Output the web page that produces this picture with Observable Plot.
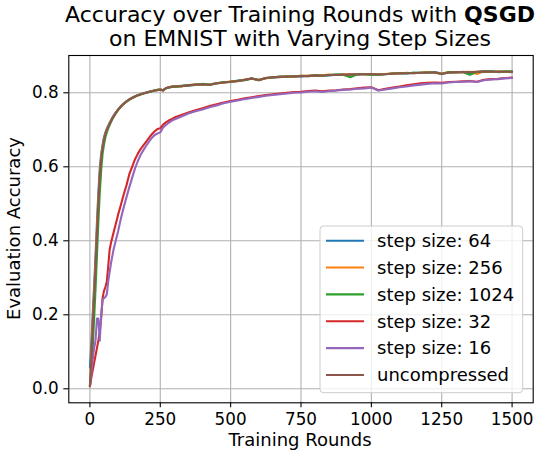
<!DOCTYPE html>
<html>
<head>
<meta charset="utf-8">
<script src="https://cdn.jsdelivr.net/npm/d3@7"></script>
<script src="https://cdn.jsdelivr.net/npm/@observablehq/plot@0.6"></script>
<style>
  html, body { margin: 0; padding: 0; background: #fff; overflow: hidden; }
  #chart { width: 538px; height: 457px; }
</style>
</head>
<body>
<div id="chart"></div>
<script>
// Evaluation rounds at which accuracy was recorded
const rounds = [
  0, 5, 10, 15, 20, 25, 30, 35, 40, 45, 50, 55, 60, 65, 70, 75, 80, 85, 90, 95, 100,
  110, 120, 130, 140, 150, 160, 170, 180, 190, 200, 210, 220, 230, 240, 250, 260, 270, 280, 290, 300,
  325, 350, 375, 400, 425, 450, 475, 500, 525, 550, 575, 600, 625, 650, 675, 700, 725, 750, 775, 800,
  825, 850, 875, 900, 925, 950, 975, 1000, 1025, 1050, 1075, 1100, 1125, 1150, 1175, 1200, 1225, 1250,
  1275, 1300, 1325, 1350, 1375, 1400, 1425, 1450, 1475, 1500
];

const seriesNames = ["step size: 64", "step size: 256", "step size: 1024", "step size: 32", "step size: 16", "uncompressed"];
const seriesColors = ["#1f77b4", "#ff7f0e", "#2ca02c", "#d62728", "#9467bd", "#8c564b"];

const step64 = [
  0.058, 0.12, 0.2, 0.28, 0.36, 0.45, 0.53, 0.595, 0.635, 0.66, 0.68, 0.693, 0.703, 0.711, 0.719, 0.726, 0.733, 0.739, 0.745, 0.75, 0.755,
  0.764, 0.771, 0.777, 0.782, 0.787, 0.79, 0.794, 0.796, 0.799, 0.801, 0.803, 0.804, 0.806, 0.808, 0.809, 0.807, 0.812, 0.814, 0.816, 0.817,
  0.819, 0.82, 0.821, 0.824, 0.822, 0.825, 0.828, 0.829, 0.833, 0.835, 0.838, 0.835, 0.84, 0.841, 0.843, 0.843, 0.845, 0.844, 0.846, 0.846,
  0.847, 0.847, 0.849, 0.848, 0.85, 0.849, 0.851, 0.85, 0.85, 0.851, 0.851, 0.853, 0.852, 0.854, 0.854, 0.854, 0.856, 0.852,
  0.854, 0.855, 0.857, 0.85, 0.856, 0.857, 0.858, 0.856, 0.857, 0.856
];
const step256 = [
  0.007, 0.09, 0.18, 0.26, 0.34, 0.43, 0.51, 0.58, 0.625, 0.653, 0.674, 0.689, 0.7, 0.709, 0.717, 0.725, 0.732, 0.738, 0.744, 0.749, 0.754,
  0.763, 0.771, 0.776, 0.782, 0.786, 0.789, 0.793, 0.796, 0.799, 0.8, 0.803, 0.805, 0.806, 0.807, 0.81, 0.806, 0.812, 0.815, 0.816, 0.818,
  0.817, 0.821, 0.822, 0.822, 0.823, 0.826, 0.827, 0.831, 0.831, 0.836, 0.838, 0.835, 0.839, 0.842, 0.842, 0.845, 0.843, 0.846, 0.846, 0.847,
  0.847, 0.849, 0.848, 0.85, 0.849, 0.85, 0.851, 0.85, 0.85, 0.851, 0.853, 0.852, 0.854, 0.853, 0.854, 0.856, 0.854, 0.852,
  0.856, 0.855, 0.856, 0.857, 0.851, 0.858, 0.856, 0.858, 0.857, 0.857
];
const step1024 = [
  0.007, 0.05, 0.11, 0.19, 0.27, 0.36, 0.45, 0.53, 0.59, 0.635, 0.66, 0.68, 0.693, 0.704, 0.713, 0.721, 0.729, 0.736, 0.742, 0.748, 0.753,
  0.762, 0.77, 0.776, 0.781, 0.786, 0.79, 0.793, 0.795, 0.798, 0.8, 0.802, 0.804, 0.806, 0.808, 0.808, 0.807, 0.812, 0.814, 0.817, 0.816,
  0.818, 0.82, 0.822, 0.823, 0.822, 0.826, 0.829, 0.83, 0.832, 0.834, 0.839, 0.834, 0.84, 0.842, 0.844, 0.844, 0.844, 0.846, 0.845, 0.847,
  0.846, 0.848, 0.849, 0.849, 0.842, 0.85, 0.85, 0.848, 0.849, 0.85, 0.852, 0.853, 0.853, 0.854, 0.854, 0.855, 0.855, 0.851,
  0.856, 0.856, 0.856, 0.849, 0.857, 0.858, 0.858, 0.857, 0.858, 0.858
];
const step32 = [
  0.007, 0.03, 0.05, 0.07, 0.09, 0.11, 0.13, 0.155, 0.19, 0.245, 0.265, 0.275, 0.29, 0.33, 0.375, 0.395, 0.41, 0.425, 0.44, 0.455, 0.47,
  0.497, 0.525, 0.55, 0.58, 0.6, 0.62, 0.635, 0.648, 0.658, 0.668, 0.678, 0.688, 0.696, 0.702, 0.704, 0.714, 0.72, 0.725, 0.729, 0.733,
  0.74, 0.747, 0.753, 0.758, 0.764, 0.769, 0.774, 0.778, 0.781, 0.785, 0.788, 0.791, 0.794, 0.796, 0.798, 0.8, 0.802, 0.803, 0.805, 0.806,
  0.804, 0.806, 0.807, 0.809, 0.81, 0.812, 0.814, 0.815, 0.807, 0.811, 0.814, 0.817, 0.82, 0.823, 0.826, 0.827, 0.828, 0.827,
  0.829, 0.83, 0.831, 0.832, 0.83, 0.835, 0.837, 0.838, 0.84, 0.841
];
const step16 = [
  0.008, 0.04, 0.08, 0.11, 0.13, 0.19, 0.19, 0.13, 0.2, 0.24, 0.245, 0.248, 0.255, 0.29, 0.315, 0.34, 0.36, 0.38, 0.395, 0.41, 0.425,
  0.46, 0.49, 0.518, 0.545, 0.57, 0.595, 0.615, 0.632, 0.645, 0.657, 0.668, 0.678, 0.686, 0.69, 0.693, 0.706, 0.713, 0.719, 0.724, 0.728,
  0.736, 0.744, 0.75, 0.755, 0.761, 0.766, 0.772, 0.776, 0.779, 0.783, 0.786, 0.789, 0.792, 0.794, 0.796, 0.798, 0.8, 0.801, 0.803, 0.804,
  0.802, 0.805, 0.806, 0.808, 0.809, 0.811, 0.812, 0.814, 0.806, 0.809, 0.812, 0.815, 0.817, 0.82, 0.822, 0.824, 0.826, 0.825,
  0.828, 0.829, 0.83, 0.831, 0.829, 0.834, 0.836, 0.837, 0.839, 0.84
];
const uncompressed = [
  0.007, 0.08, 0.17, 0.25, 0.33, 0.42, 0.5, 0.575, 0.62, 0.65, 0.672, 0.688, 0.698, 0.708, 0.716, 0.724, 0.731, 0.737, 0.743, 0.749, 0.754,
  0.763, 0.77, 0.777, 0.782, 0.786, 0.79, 0.793, 0.796, 0.798, 0.8, 0.802, 0.804, 0.806, 0.807, 0.809, 0.806, 0.813, 0.815, 0.816, 0.817,
  0.818, 0.82, 0.822, 0.823, 0.821, 0.826, 0.828, 0.83, 0.832, 0.835, 0.839, 0.834, 0.84, 0.842, 0.843, 0.844, 0.844, 0.845, 0.845, 0.847,
  0.846, 0.848, 0.848, 0.849, 0.849, 0.85, 0.85, 0.851, 0.849, 0.85, 0.852, 0.853, 0.853, 0.853, 0.854, 0.855, 0.855, 0.851,
  0.855, 0.856, 0.856, 0.856, 0.857, 0.858, 0.857, 0.857, 0.857, 0.857
];

const xTicks = [0, 250, 500, 750, 1000, 1250, 1500];
const yTicks = [0, 0.2, 0.4, 0.6, 0.8];

// Long-format rows, in legend (drawing) order
const seriesValues = [step64, step256, step1024, step32, step16, uncompressed];
const rows = [];
seriesNames.forEach((name, i) => {
  seriesValues[i].forEach((v, j) => rows.push({series: name, round: rounds[j], acc: v}));
});

const gridStyle = {stroke: "#b0b0b0", strokeOpacity: 1, strokeWidth: 1.1};

const chart = Plot.plot({
  width: 538,
  height: 457,
  marginLeft: 68.3,
  marginRight: 5.3,
  marginTop: 55,
  marginBottom: 54.7,
  style: {fontFamily: "DejaVu Sans", fontSize: "16.8px", color: "#000", background: "#fff", overflow: "visible"},
  x: {domain: [-75, 1575]},
  y: {domain: [-0.0378, 0.9008]},
  color: {domain: seriesNames, range: seriesColors},
  marks: [
    Plot.gridX(xTicks, gridStyle),
    Plot.gridY(yTicks, gridStyle),
    Plot.line(rows, {x: "round", y: "acc", z: "series", stroke: "series", strokeWidth: 2.1}),
    Plot.frame({stroke: "#000", strokeWidth: 1.1}),
    Plot.axisX(xTicks, {tickSize: 5, tickPadding: 5, strokeWidth: 1.1, label: null, tickFormat: d => String(d)}),
    Plot.axisY(yTicks, {tickSize: 5, tickPadding: 5, strokeWidth: 1.1, label: null, tickFormat: d => d.toFixed(1)})
  ]
});

document.getElementById("chart").appendChild(chart);

const svg = d3.select(chart);
const font = "DejaVu Sans";

// Two-line title centred over the axes
const title = svg.append("g")
  .attr("font-family", font)
  .attr("font-size", 22)
  .attr("text-anchor", "middle")
  .attr("fill", "#000");
const line1 = title.append("text").attr("x", 300).attr("y", 22).style("white-space", "pre");
line1.append("tspan").text("Accuracy over Training Rounds with ");
line1.append("tspan").attr("font-weight", "bold").text("QSGD");
title.append("text").attr("x", 300).attr("y", 46).text("on EMNIST with Varying Step Sizes");

// Axis titles
svg.append("text")
  .attr("x", 300).attr("y", 446)
  .attr("font-family", font).attr("font-size", 18)
  .attr("text-anchor", "middle").attr("fill", "#000")
  .text("Training Rounds");
svg.append("text")
  .attr("transform", "translate(19.5,228.5) rotate(-90)")
  .attr("font-family", font).attr("font-size", 18)
  .attr("text-anchor", "middle").attr("fill", "#000")
  .text("Evaluation Accuracy");

// Legend in the lower right of the axes
const legend = svg.append("g")
  .attr("font-family", font)
  .attr("font-size", 18)
  .attr("text-anchor", "start");
legend.append("rect")
  .attr("x", 320).attr("y", 226).attr("width", 202.7).attr("height", 166.7)
  .attr("rx", 3.5)
  .attr("fill", "#fff").attr("fill-opacity", 0.8)
  .attr("stroke", "#cccccc").attr("stroke-width", 1);
seriesNames.forEach((name, i) => {
  const y = 240.7 + i * 26.86;
  legend.append("line")
    .attr("x1", 326).attr("x2", 364).attr("y1", y).attr("y2", y)
    .attr("stroke", seriesColors[i]).attr("stroke-width", 2.1);
  legend.append("text")
    .attr("x", 377).attr("y", y).attr("dy", "0.35em").attr("fill", "#000")
    .attr("text-anchor", "start")
    .text(name);
});
</script>
</body>
</html>
